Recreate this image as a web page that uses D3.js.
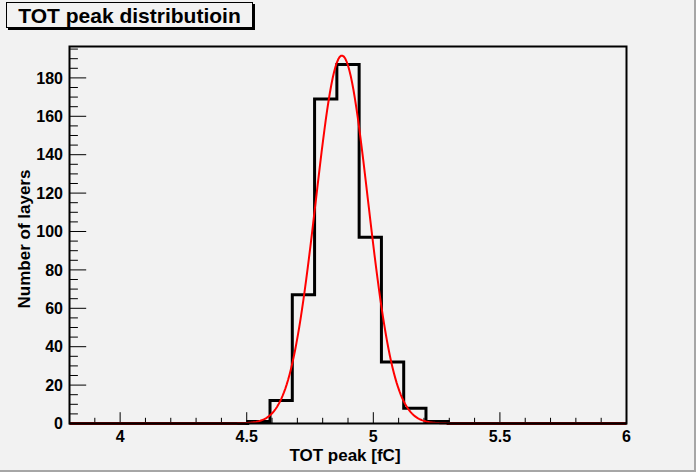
<!DOCTYPE html>
<html>
<head>
<meta charset="utf-8">
<script src="https://cdn.jsdelivr.net/npm/d3@7"></script>
<style>
  html, body { margin: 0; padding: 0; background: #f2f2f2; }
  svg { display: block; }
  text { font-family: "Liberation Sans", Arial, Helvetica, sans-serif; font-weight: bold; fill: #000; }
</style>
</head>
<body>
<svg id="chart" width="696" height="472"></svg>
<script>
// ---- data ----
const binLow = 3.8;
const binHigh = 6.0;
const binCounts = [0, 0, 0, 0, 0, 0, 0, 0, 1, 12, 67, 169, 187, 97, 32, 8, 1, 0, 0, 0, 0, 0, 0, 0, 0];
const xTickValues = [4, 4.5, 5, 5.5, 6];
const xTickLabels = ["4", "4.5", "5", "5.5", "6"];
const yTickValues = [0, 20, 40, 60, 80, 100, 120, 140, 160, 180];
const yTickLabels = ["0", "20", "40", "60", "80", "100", "120", "140", "160", "180"];
// Gaussian fit parameters: constant, mean, sigma
const fitConstant = [191.6];
const fitMean = [4.876];
const fitSigma = [0.103];
const titleText = "TOT peak distributioin";
const xTitle = "TOT peak [fC]";
const yTitle = "Number of layers";

// ---- layout ----
const W = 696, H = 472;
const L = 69.5, R = 626.5, T = 46.5, B = 423.5;
const yMax = d3.max(binCounts) * 1.05;

const svg = d3.select("#chart");
const x = d3.scaleLinear().domain([binLow, binHigh]).range([L, R]);
const y = d3.scaleLinear().domain([0, yMax]).range([B, T]);

// background and canvas bevel
svg.append("rect").attr("x", 0).attr("y", 0).attr("width", W).attr("height", H).attr("fill", "#f2f2f2");
svg.append("rect").attr("x", W - 2).attr("y", 0).attr("width", 2).attr("height", H).attr("fill", "#a6a6a6");
svg.append("rect").attr("x", 0).attr("y", H - 2).attr("width", W).attr("height", 2).attr("fill", "#a6a6a6");

// minor/major ticks for x (every 0.1, major every 0.5)
const g = svg.append("g");
const xMinor = d3.range(39, 61).map(v => v / 10);
xMinor.forEach(v => {
  const major = Math.abs(v * 2 - Math.round(v * 2)) < 1e-9;
  const len = major ? 11.3 : 5.7;
  g.append("line").attr("x1", x(v)).attr("x2", x(v)).attr("y1", B).attr("y2", B - len)
    .attr("stroke", "#000").attr("stroke-width", 1);
});
const yMinor = d3.range(0, 200, 5).filter(v => v <= yMax);
yMinor.forEach(v => {
  const major = v % 20 === 0;
  const len = major ? 16.7 : 8.4;
  g.append("line").attr("x1", L).attr("x2", L + len).attr("y1", y(v)).attr("y2", y(v))
    .attr("stroke", "#000").attr("stroke-width", 1);
});

// tick labels
xTickValues.forEach((v, i) => {
  svg.append("text").attr("x", x(v)).attr("y", 442).attr("text-anchor", "middle")
    .attr("font-size", 16).text(xTickLabels[i]);
});
yTickValues.forEach((v, i) => {
  svg.append("text").attr("x", 63).attr("y", y(v)).attr("dy", "0.36em").attr("text-anchor", "end")
    .attr("font-size", 16).text(yTickLabels[i]);
});

// axis titles
svg.append("text").attr("x", (L + R) / 2 - 3).attr("y", 461).attr("text-anchor", "middle")
  .attr("font-size", 17).text(xTitle);
svg.append("text").attr("transform", `translate(30,${(T + B) / 2 + 4}) rotate(-90)`)
  .attr("text-anchor", "middle").attr("font-size", 17).text(yTitle);

// histogram outline
const bw = (binHigh - binLow) / binCounts.length;
const pts = [];
pts.push([x(binLow), y(0)]);
binCounts.forEach((c, i) => {
  pts.push([x(binLow + i * bw), y(c)]);
  pts.push([x(binLow + (i + 1) * bw), y(c)]);
});
pts.push([x(binHigh), y(0)]);
svg.append("path").attr("d", d3.line()(pts)).attr("fill", "none")
  .attr("stroke", "#000").attr("stroke-width", 3).attr("stroke-linejoin", "miter");

// fit curve
const fx = d3.range(0, 401).map(i => binLow + (binHigh - binLow) * i / 400);
const gauss = v => fitConstant[0] * Math.exp(-0.5 * Math.pow((v - fitMean[0]) / fitSigma[0], 2));
svg.append("path").attr("d", d3.line().x(v => x(v)).y(v => y(gauss(v)))(fx))
  .attr("fill", "none").attr("stroke", "#ff0000").attr("stroke-width", 2);

// frame
svg.append("rect").attr("x", L).attr("y", T).attr("width", R - L).attr("height", B - T)
  .attr("fill", "none").attr("stroke", "#000").attr("stroke-width", 2);

// title box with shadow
svg.append("rect").attr("x", 8).attr("y", 4).attr("width", 247).attr("height", 26).attr("fill", "#000");
svg.append("rect").attr("x", 6.5).attr("y", 2.5).attr("width", 246).attr("height", 25)
  .attr("fill", "#f2f2f2").attr("stroke", "#000").attr("stroke-width", 1);
svg.append("text").attr("x", 129.5).attr("y", 23).attr("text-anchor", "middle")
  .attr("font-size", 21).text(titleText);
</script>
</body>
</html>
